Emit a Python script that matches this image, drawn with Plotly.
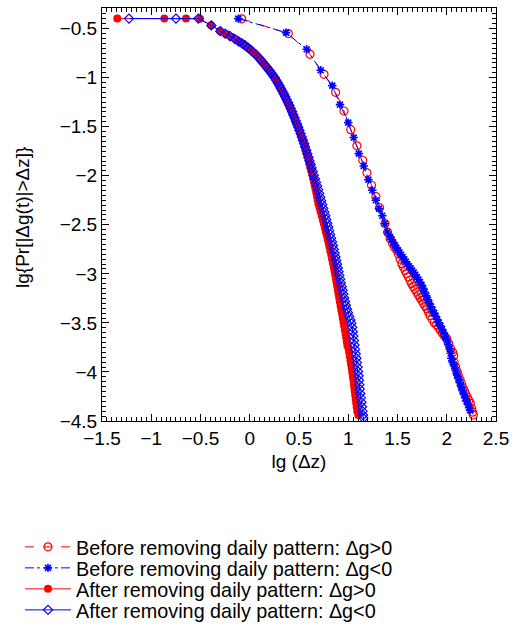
import plotly.graph_objects as go

# ---------------- data ----------------
# Before removing daily pattern, dg>0  (red open circles, dashed)
before_pos_x = [-0.082, 0.392, 0.612, 0.754, 0.872, 0.957, 1.025, 1.088, 1.147, 1.190, 1.236, 1.281,
                1.318, 1.373, 1.400, 1.425, 1.450, 1.470, 1.492, 1.510, 1.527, 1.543, 1.560, 1.577,
                1.593, 1.610, 1.627, 1.644, 1.660, 1.677, 1.695, 1.712, 1.729, 1.746, 1.762, 1.779,
                1.796, 1.813, 1.830, 1.850, 1.872, 1.893, 1.914, 1.935, 1.955, 1.975, 1.999, 2.020,
                2.040, 2.060, 2.070, 2.075, 2.090, 2.105, 2.117, 2.135, 2.150, 2.165, 2.180, 2.195,
                2.210, 2.225, 2.240, 2.253, 2.262, 2.270]
before_pos_y = [-0.400, -0.551, -0.762, -0.966, -1.150, -1.340, -1.530, -1.695, -1.842, -1.970, -2.097, -2.212,
                -2.325, -2.488, -2.575, -2.640, -2.690, -2.728, -2.760, -2.800, -2.850, -2.896, -2.930, -2.965,
                -2.997, -3.030, -3.065, -3.100, -3.130, -3.158, -3.185, -3.215, -3.243, -3.270, -3.300, -3.327,
                -3.354, -3.390, -3.425, -3.460, -3.495, -3.520, -3.545, -3.575, -3.605, -3.630, -3.660, -3.710,
                -3.760, -3.800, -3.835, -3.900, -3.950, -3.995, -4.030, -4.080, -4.120, -4.160, -4.195, -4.230,
                -4.260, -4.290, -4.320, -4.374, -4.410, -4.440]

# Before removing daily pattern, dg<0  (blue asterisks, dash-dot)
before_neg_x = [-0.116, 0.368, 0.578, 0.720, 0.838, 0.916, 1.000, 1.055, 1.107, 1.157, 1.204, 1.244,
                1.280, 1.312, 1.346, 1.372, 1.397, 1.424, 1.440, 1.456, 1.472, 1.488, 1.504, 1.520,
                1.536, 1.552, 1.568, 1.584, 1.600, 1.616, 1.632, 1.648, 1.664, 1.680, 1.696, 1.712,
                1.728, 1.744, 1.760, 1.776, 1.792, 1.808, 1.824, 1.840, 1.856, 1.872, 1.888, 1.904,
                1.920, 1.936, 1.952, 1.968, 1.984, 2.000, 2.016, 2.030, 2.040, 2.046, 2.060, 2.075,
                2.090, 2.104, 2.118, 2.132, 2.146, 2.160, 2.174, 2.188, 2.202, 2.216, 2.228, 2.236]
before_neg_y = [-0.398, -0.541, -0.711, -0.925, -1.081, -1.275, -1.458, -1.610, -1.774, -1.900, -2.040, -2.148,
                -2.250, -2.335, -2.408, -2.490, -2.573, -2.624, -2.652, -2.680, -2.708, -2.735, -2.760, -2.782,
                -2.805, -2.828, -2.852, -2.876, -2.900, -2.922, -2.944, -2.966, -2.988, -3.010, -3.034, -3.058,
                -3.085, -3.115, -3.148, -3.185, -3.225, -3.265, -3.300, -3.335, -3.368, -3.400, -3.432, -3.465,
                -3.498, -3.530, -3.565, -3.600, -3.640, -3.680, -3.720, -3.765, -3.810, -3.860, -3.900, -3.940,
                -3.985, -4.030, -4.070, -4.110, -4.150, -4.190, -4.230, -4.265, -4.300, -4.335, -4.365, -4.390]

# After removing daily pattern, dg>0  (red filled circles, solid)
after_pos_x = [-1.345, -0.867, -0.647, -0.505, -0.393, -0.302, -0.234, -0.183, -0.140, -0.105, -0.070, -0.040,
               -0.012, 0.015, 0.040, 0.063, 0.085, 0.106, 0.126, 0.146, 0.165, 0.183, 0.200, 0.217,
               0.233, 0.250, 0.266, 0.282, 0.297, 0.312, 0.327, 0.341, 0.355, 0.369, 0.383, 0.397,
               0.410, 0.423, 0.436, 0.449, 0.461, 0.473, 0.486, 0.499, 0.511, 0.523, 0.535, 0.546,
               0.557, 0.567, 0.577, 0.587, 0.597, 0.606, 0.615, 0.624, 0.633, 0.642, 0.651, 0.659,
               0.667, 0.675, 0.683, 0.690, 0.698, 0.709, 0.720, 0.731, 0.742, 0.752, 0.762, 0.772,
               0.782, 0.792, 0.801, 0.810, 0.819, 0.828, 0.836, 0.844, 0.852, 0.860, 0.867, 0.874,
               0.881, 0.888, 0.895, 0.902, 0.909, 0.916, 0.923, 0.930, 0.937, 0.944, 0.951, 0.958,
               0.965, 0.972, 0.979, 0.985, 0.991, 1.003, 1.009, 1.016, 1.022, 1.028, 1.034, 1.040,
               1.046, 1.051, 1.056, 1.061, 1.066, 1.071, 1.076, 1.081, 1.086, 1.092, 1.102]
after_pos_y = [-0.398, -0.398, -0.398, -0.400, -0.466, -0.524, -0.558, -0.585, -0.612, -0.634, -0.655, -0.678,
               -0.700, -0.722, -0.745, -0.766, -0.790, -0.815, -0.838, -0.862, -0.884, -0.906, -0.928, -0.951,
               -0.974, -0.998, -1.025, -1.052, -1.080, -1.108, -1.136, -1.164, -1.192, -1.220, -1.250, -1.280,
               -1.310, -1.340, -1.372, -1.404, -1.436, -1.468, -1.500, -1.532, -1.565, -1.598, -1.631, -1.665,
               -1.700, -1.735, -1.770, -1.806, -1.842, -1.878, -1.914, -1.950, -1.986, -2.022, -2.060, -2.098,
               -2.136, -2.174, -2.212, -2.250, -2.290, -2.330, -2.370, -2.410, -2.450, -2.490, -2.530, -2.570,
               -2.610, -2.650, -2.690, -2.730, -2.770, -2.810, -2.850, -2.890, -2.930, -2.970, -3.010, -3.050,
               -3.090, -3.130, -3.170, -3.210, -3.250, -3.290, -3.330, -3.370, -3.410, -3.450, -3.490, -3.530,
               -3.570, -3.610, -3.650, -3.690, -3.730, -3.760, -3.800, -3.840, -3.880, -3.920, -3.960, -4.000,
               -4.040, -4.080, -4.120, -4.160, -4.200, -4.240, -4.280, -4.320, -4.360, -4.400, -4.440]

# After removing daily pattern, dg<0  (blue open diamonds, solid)
after_neg_x = [-1.226, -0.749, -0.522, -0.390, -0.300, -0.250, -0.200, -0.150, -0.110, -0.075, -0.045, -0.015,
               0.012, 0.038, 0.062, 0.085, 0.107, 0.128, 0.148, 0.167, 0.185, 0.203, 0.220, 0.237,
               0.254, 0.270, 0.286, 0.302, 0.317, 0.332, 0.347, 0.361, 0.375, 0.389, 0.403, 0.416,
               0.429, 0.442, 0.455, 0.468, 0.480, 0.493, 0.505, 0.517, 0.529, 0.540, 0.552, 0.563,
               0.574, 0.585, 0.596, 0.607, 0.618, 0.629, 0.640, 0.651, 0.662, 0.673, 0.684, 0.695,
               0.706, 0.716, 0.726, 0.736, 0.746, 0.757, 0.767, 0.777, 0.787, 0.797, 0.807, 0.817,
               0.826, 0.835, 0.844, 0.853, 0.862, 0.870, 0.878, 0.886, 0.894, 0.902, 0.910, 0.918,
               0.926, 0.934, 0.942, 0.950, 0.958, 0.967, 0.976, 0.987, 0.998, 1.010, 1.022, 1.032,
               1.040, 1.046, 1.052, 1.058, 1.064, 1.070, 1.076, 1.083, 1.089, 1.095, 1.100, 1.105,
               1.109, 1.113, 1.117, 1.122, 1.128, 1.134, 1.140, 1.145, 1.150, 1.153]
after_neg_y = [-0.398, -0.398, -0.398, -0.468, -0.526, -0.552, -0.578, -0.607, -0.632, -0.654, -0.675, -0.698,
               -0.720, -0.743, -0.766, -0.790, -0.815, -0.840, -0.864, -0.887, -0.909, -0.932, -0.955, -0.978,
               -1.002, -1.028, -1.055, -1.083, -1.111, -1.139, -1.167, -1.195, -1.224, -1.254, -1.284, -1.314,
               -1.345, -1.377, -1.409, -1.441, -1.473, -1.505, -1.538, -1.571, -1.604, -1.638, -1.672, -1.706,
               -1.741, -1.776, -1.812, -1.848, -1.884, -1.920, -1.957, -1.994, -2.031, -2.068, -2.105, -2.142,
               -2.180, -2.218, -2.256, -2.294, -2.332, -2.370, -2.408, -2.446, -2.484, -2.522, -2.560, -2.598,
               -2.636, -2.674, -2.712, -2.750, -2.788, -2.826, -2.864, -2.902, -2.940, -2.978, -3.016, -3.054,
               -3.092, -3.130, -3.168, -3.206, -3.244, -3.282, -3.320, -3.358, -3.396, -3.434, -3.470, -3.505,
               -3.545, -3.590, -3.635, -3.680, -3.725, -3.770, -3.815, -3.860, -3.905, -3.950, -3.995, -4.040,
               -4.085, -4.130, -4.175, -4.220, -4.265, -4.310, -4.355, -4.400, -4.440, -4.470]

series_names = ["Before removing daily pattern: \u0394g>0",
                "Before removing daily pattern: \u0394g<0",
                "After removing daily pattern: \u0394g>0",
                "After removing daily pattern: \u0394g<0"]

x_ticks = [-1.5, -1, -0.5, 0, 0.5, 1, 1.5, 2, 2.5]
y_ticks = [-4.5, -4, -3.5, -3, -2.5, -2, -1.5, -1, -0.5]
x_title = "lg (\u0394z)"
y_title = "lg{Pr[|\u0394g(t)|>\u0394z]}"

RED = "#ff0000"
BLUE = "#0000ff"
FONT = "Arial, 'Liberation Sans', Helvetica, sans-serif"
FS = 19


def tick_text(v):
    return ("\u2212" if v < 0 else "") + f"{abs(v):g}"


fig = go.Figure()
fig.add_trace(go.Scatter(
    x=before_pos_x, y=before_pos_y, name=series_names[0], mode="lines+markers", legend="legend",
    line=dict(color=RED, width=1, dash="dash"),
    marker=dict(symbol="circle-open", size=8, color=RED, line=dict(width=1.2, color=RED))))
fig.add_trace(go.Scatter(
    x=before_neg_x, y=before_neg_y, name=series_names[1], mode="lines+markers", legend="legend2",
    line=dict(color=BLUE, width=1, dash="dashdot"),
    marker=dict(symbol="asterisk-open", size=7, color=BLUE, line=dict(width=1.6, color=BLUE))))
fig.add_trace(go.Scatter(
    x=after_pos_x, y=after_pos_y, name=series_names[2], mode="lines+markers", legend="legend3",
    line=dict(color=RED, width=1),
    marker=dict(symbol="circle", size=8, color=RED)))
fig.add_trace(go.Scatter(
    x=after_neg_x, y=after_neg_y, name=series_names[3], mode="lines+markers", legend="legend4",
    line=dict(color=BLUE, width=1),
    marker=dict(symbol="diamond-open", size=7, color=BLUE, line=dict(width=1.2, color=BLUE))))

axis_common = dict(
    showline=True, linecolor="black", linewidth=1, mirror="ticks",
    ticks="inside", ticklen=7, tickwidth=1, tickcolor="black",
    showgrid=False, zeroline=False,
    tickfont=dict(family=FONT, size=FS, color="black"),
)

fig.update_xaxes(
    range=[-1.5, 2.5], tickvals=x_ticks, ticktext=[tick_text(v) for v in x_ticks],
    minor=dict(dtick=0.05, ticks="inside", ticklen=4, tickcolor="black", showgrid=False),
    title=dict(text=x_title, font=dict(family=FONT, size=FS, color="black"), standoff=6),
    **axis_common)
fig.update_yaxes(
    range=[-4.5, -0.29], tickvals=y_ticks, ticktext=[tick_text(v) for v in y_ticks],
    minor=dict(dtick=0.05, tick0=0, ticks="inside", ticklen=4, tickcolor="black", showgrid=False),
    **axis_common)

# y-axis title as rotated text (kept as real text)
fig.add_annotation(text=y_title, xref="paper", yref="paper", x=(22 - 102) / 394, y=1 - (218 - 8) / 413,
                   xanchor="center", yanchor="middle", textangle=-90, showarrow=False,
                   font=dict(family=FONT, size=FS, color="black"))

row_centers = [547, 568, 589, 610]
legend_common = dict(xref="container", yref="container", x=20 / 518, xanchor="left", yanchor="middle",
                     font=dict(family=FONT, size=19.8, color="black"),
                     bgcolor="rgba(0,0,0,0)", borderwidth=0, itemwidth=46)

fig.update_layout(
    width=518, height=629,
    margin=dict(l=102, r=22, t=8, b=208, autoexpand=False),
    paper_bgcolor="white", plot_bgcolor="white",
    font=dict(family=FONT, size=FS, color="black"),
    showlegend=True,
    legend=dict(y=1 - row_centers[0] / 629, **legend_common),
    legend2=dict(y=1 - row_centers[1] / 629, **legend_common),
    legend3=dict(y=1 - row_centers[2] / 629, **legend_common),
    legend4=dict(y=1 - row_centers[3] / 629, **legend_common),
)

fig.write_html("out.html")
